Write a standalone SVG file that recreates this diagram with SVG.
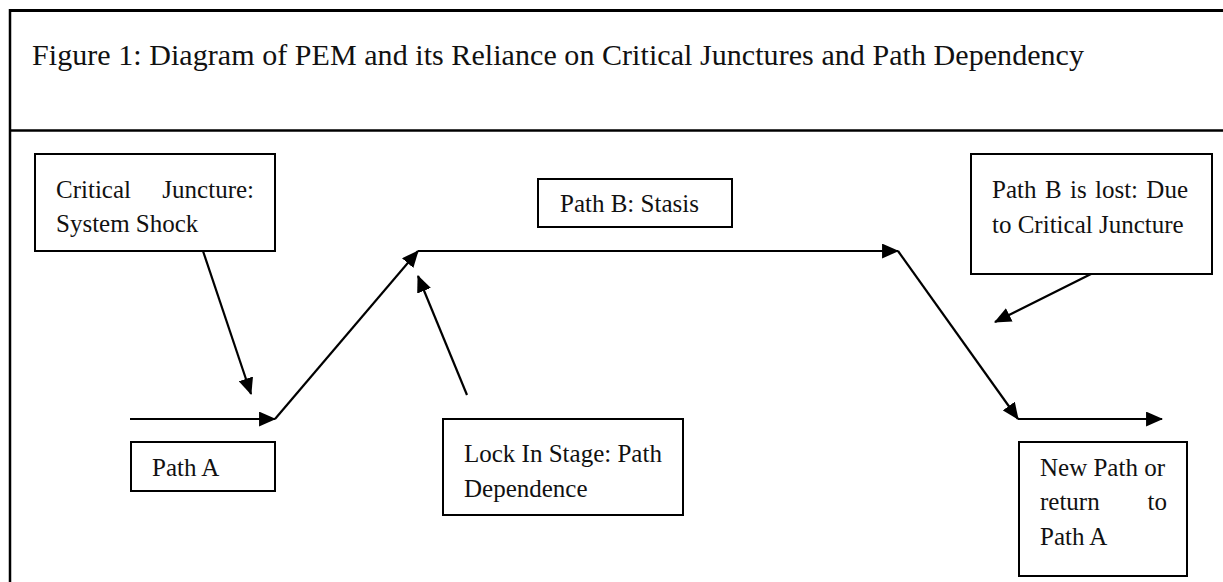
<svg xmlns="http://www.w3.org/2000/svg" width="1223" height="582" viewBox="0 0 1223 582">
<style>
.box{fill:#fff;stroke:#000;stroke-width:2}
.t{font-family:"Liberation Serif","Times New Roman",serif;font-size:25px;fill:#111}
.title{font-family:"Liberation Serif","Times New Roman",serif;font-size:30px;fill:#111}
.frame{stroke:#000;fill:none}
.conn{stroke:#000;stroke-width:2.2;fill:none;marker-end:url(#ah)}
</style>
<defs>
<marker id="ah" viewBox="0 0 16 14" refX="15" refY="7" markerWidth="17" markerHeight="15" markerUnits="userSpaceOnUse" orient="auto">
<path d="M0,0 L16,7 L0,14 z" fill="#000"/>
</marker>
</defs>
<rect width="1223" height="582" fill="#fff"/>
<g id="frame">
<line class="frame" x1="10" y1="10.5" x2="1223" y2="10.5" stroke-width="3"/>
<line class="frame" x1="10" y1="130.5" x2="1223" y2="130.5" stroke-width="2.5"/>
<line class="frame" x1="10" y1="9" x2="10" y2="582" stroke-width="2.5"/>
</g>
<g id="title">
<text class="title" x="32" y="65" textLength="1052" lengthAdjust="spacing">Figure 1: Diagram of PEM and its Reliance on Critical Junctures and Path Dependency</text>
</g>
<g id="connectors">
<line class="conn" x1="203" y1="251" x2="251" y2="394"/>
<line class="conn" x1="130" y1="419" x2="275" y2="419"/>
<line class="conn" x1="275" y1="419" x2="418" y2="251"/>
<line class="conn" x1="418" y1="251" x2="898" y2="251"/>
<line class="conn" x1="467" y1="395" x2="418" y2="276"/>
<line class="conn" x1="898" y1="251" x2="1018" y2="419"/>
<line class="conn" x1="1018" y1="419" x2="1162" y2="419"/>
<line class="conn" x1="1091" y1="274" x2="995" y2="322"/>
</g>
<g id="critical-juncture">
<rect class="box" x="35" y="154" width="240" height="97"/>
<text class="t" y="198"><tspan x="56">Critical</tspan><tspan x="254" text-anchor="end">Juncture:</tspan></text>
<text class="t" x="56" y="232">System Shock</text>
</g>
<g id="path-b">
<rect class="box" x="538" y="179" width="194" height="48"/>
<text class="t" x="560" y="212">Path B: Stasis</text>
</g>
<g id="path-b-lost">
<rect class="box" x="971" y="154" width="241" height="120"/>
<text class="t" y="198"><tspan x="992">Path</tspan><tspan x="1045">B</tspan><tspan x="1070">is</tspan><tspan x="1095">lost:</tspan><tspan x="1188" text-anchor="end">Due</tspan></text>
<text class="t" x="992" y="233">to Critical Juncture</text>
</g>
<g id="path-a">
<rect class="box" x="131" y="442" width="144" height="49"/>
<text class="t" x="152" y="476">Path A</text>
</g>
<g id="lock-in">
<rect class="box" x="443" y="419" width="240" height="96"/>
<text class="t" x="464" y="462">Lock In Stage: Path</text>
<text class="t" x="464" y="497">Dependence</text>
</g>
<g id="new-path">
<rect class="box" x="1019" y="442" width="168" height="134"/>
<text class="t" x="1040" y="476">New Path or</text>
<text class="t" y="510"><tspan x="1040">return</tspan><tspan x="1167" text-anchor="end">to</tspan></text>
<text class="t" x="1040" y="545">Path A</text>
</g>
</svg>
